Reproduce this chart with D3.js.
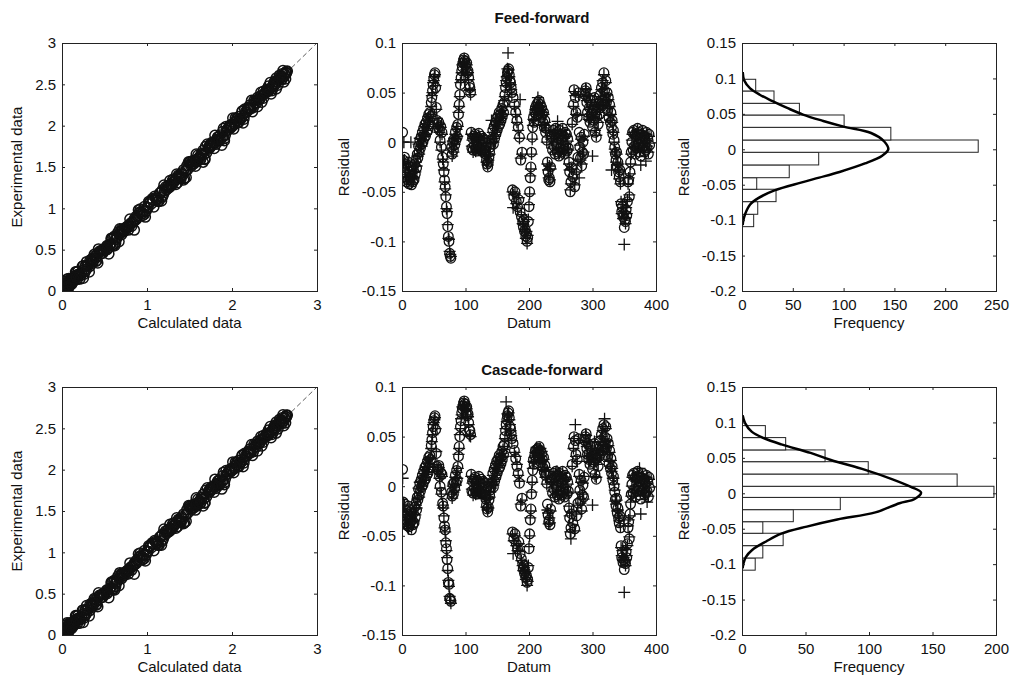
<!DOCTYPE html>
<html><head><meta charset="utf-8">
<script src="https://cdn.jsdelivr.net/npm/d3@7"></script>
<style>
body{margin:0;background:#fff;}
text{font-family:"Liberation Sans",Arial,sans-serif;fill:#111;}
</style></head><body>
<script>
// ---------------- DATA ----------------
// Residuals in thousandths, one per datum (datum = index + 1)
const ffCircleRes = [10,-18,-30,-15,-35,-22,-40,-26,-38,-20,-42,-30,-36,-25,-43,-33,-40,-28,-38,-22,-32,-18,-26,-12,-16,
 -4,-10,2,-6,5,-2,10,0,14,4,18,6,20,10,24,12,28,18,30,26,40,
 45,52,58,64,68,70,55,35,22,18,15,20,
 12,2,16,-5,10,-15,-22,-30,-38,-45,-55,-65,-72,-85,-95,-100,-112,-115,-117,
 -5,-12,0,-8,3,-3,10,2,15,5,18,
 28,38,48,58,65,72,76,80,83,85,82,78,75,80,70,72,65,58,55,50,
 10,-6,4,-8,6,-3,8,-7,3,-9,5,-4,9,-6,2,-8,6,-3,-9,4,-6,2,
 -8,-12,-18,-22,-25,-20,-15,-10,-5,-2,3,
 2,12,-2,16,4,20,8,24,12,26,16,30,18,28,22,34,26,38,30,
 40,48,55,60,65,70,72,74,68,62,
 60,55,50,-48,45,-55,38,-50,30,-60,22,-65,15,-58,5,-70,-18,-75,-10,-80,-85,-78,-90,-88,-95,-92,-100,-96,-80,-65,-50,-36,-25,-10,5,
 15,25,20,30,35,28,38,32,40,35,42,30,38,25,35,28,20,30,15,22,
 10,14,2,-20,-30,-38,-36,-40,-25,5,
 6,-8,12,-4,8,-12,14,-2,10,-10,4,-14,12,-6,8,-10,2,14,-8,6,-12,10,-4,8,-9,3,-6,
 -20,-30,-50,-40,-25,20,-35,38,53,-45,45,30,-28,25,-15,50,10,
 -5,-16,5,-24,-10,0,-12,8,
 48,52,55,40,30,45,25,35,20,42,28,38,15,32,22,45,10,30,5,26,35,18,40,28,48,35,55,42,60,38,70,52,45,62,40,50,32,45,25,38,20,30,15,22,8,12,2,
 -5,-12,-18,-10,-25,-20,-30,-35,-28,-40,-62,-70,-65,-75,-72,-86,
 -78,-80,-68,-74,-60,-40,-38,-55,-30,-20,-10,
 0,10,-8,12,-4,8,-12,6,-6,14,-2,10,-10,4,-14,8,-6,12,-4,6,-10,2,-8,10,-6,4,-12,8,-3];

const ffPlusRes = [0,-20,0,-18,-33,-25,-38,-28,-36,-22,-40,-32,-34,0,-41,-35,-38,-30,-36,-24,-30,-20,-24,-14,-14,
 -2,-12,4,-4,3,-4,8,2,12,6,16,8,18,12,22,14,26,20,28,28,36,
 47,50,60,62,66,68,57,33,24,16,16,18,
 10,0,15,-8,8,-17,-20,-28,-40,-47,-53,-67,-70,-83,-97,-98,-110,-113,-115,
 -6,-14,1,-10,4,-2,8,3,13,6,16,
 30,36,46,60,63,70,78,79,81,84,80,76,73,78,68,70,63,52,53,48,
 8,-4,2,-10,4,-5,6,-9,5,-7,3,-6,7,-8,4,-6,-10,-1,-7,2,-8,4,
 -10,-14,-20,-20,-23,-18,-13,-12,-4,-1,22,
 4,10,0,14,6,18,10,22,14,24,18,28,20,26,24,32,28,36,28,
 42,46,57,62,66,74,90,73,66,60,
 58,53,48,-50,-66,-53,36,-52,28,-62,20,-67,12,-56,4,43,-16,-73,-12,-82,-83,-80,-88,-90,-97,-90,-102,-94,-78,-63,-52,-34,-27,-12,3,
 17,23,22,28,33,30,36,34,45,37,40,32,36,27,33,30,18,28,17,20,
 12,12,0,-22,-28,-36,-24,-38,-27,3,
 4,-6,10,-2,6,-10,12,0,8,21,2,-12,-11,-4,6,-8,4,12,-6,4,-10,8,-2,6,-7,1,-8,
 -22,-28,-48,-42,-27,18,-37,36,51,-43,47,28,-30,27,-17,48,-36,
 -3,-18,3,-22,-12,2,-10,6,
 46,54,53,42,28,47,23,33,22,40,26,36,-14,30,24,43,12,28,7,24,33,20,38,30,46,37,53,40,62,36,68,54,43,60,42,48,34,43,27,36,22,28,-28,20,10,10,0,
 -7,-10,-20,-12,-23,-22,-28,-37,-30,-42,-60,-72,-63,-77,-70,-103,
 -76,-82,-66,-72,-58,-42,-36,-53,-32,-22,-12,
 2,8,-6,10,-2,6,-10,4,-4,12,0,8,-8,2,-23,6,-4,10,-2,4,-8,0,-19,8,-4,2,-10,6,-1];

const cfCircleRes = [17,-16,-28,-18,-36,-24,-38,-28,-40,-20,-41,-32,-37,-26,-44,-34,-39,-27,-37,-21,-31,-17,-24,-11,-14,
 -3,-9,3,-5,6,-1,11,1,15,5,19,7,21,11,25,13,29,19,31,27,41,
 47,54,60,66,69,71,57,33,20,17,16,21,
 10,0,14,-6,12,-17,-20,-32,-40,-44,-57,-63,-74,-83,-97,-99,-113,-114,-116,
 -6,-10,2,-8,4,-2,11,3,16,6,20,
 30,40,50,60,66,74,78,81,84,86,83,79,74,80,71,73,64,57,56,52,
 12,-5,5,-7,7,-2,9,-6,4,-8,6,-3,10,-5,3,-7,7,-2,-8,5,-5,3,
 -9,-13,-19,-23,-26,-21,-14,-9,-4,-1,4,
 3,13,-1,17,5,21,9,25,13,27,17,31,19,29,23,35,27,40,32,
 42,50,56,62,67,71,74,76,69,60,
 58,53,48,-46,43,-53,36,-48,28,-58,20,-63,13,-56,3,-68,-20,-73,-12,-78,-83,-80,-88,-86,-92,-90,-97,-94,-82,-63,-48,-34,-23,-8,6,
 16,27,22,31,36,27,37,31,38,34,40,28,36,24,33,27,19,29,14,21,
 11,13,3,-18,-29,-36,-34,-39,-23,6,
 7,-7,13,-3,9,-11,15,-1,11,-9,5,-13,13,-5,9,-9,3,15,-7,7,-11,11,-3,9,-8,4,-5,
 -22,-32,-48,-42,-28,22,-37,40,50,-43,46,32,-30,27,-17,48,12,
 -4,-15,6,-23,-9,1,-11,9,
 46,50,53,38,32,43,27,33,22,40,30,36,17,30,24,43,12,28,7,28,33,20,38,30,46,33,52,40,58,36,62,50,43,60,38,48,30,43,23,36,18,28,13,20,6,10,0,
 -6,-13,-20,-12,-27,-22,-32,-37,-30,-42,-60,-72,-67,-77,-74,-84,
 -76,-78,-66,-72,-58,-42,-36,-53,-28,-18,-8,
 2,11,-7,13,-3,9,-11,7,-5,15,-1,11,-9,5,-13,9,-5,13,-3,7,-9,3,-7,11,-5,5,-11,9,-2];

const cfPlusRes = [8,-18,-26,-20,-34,-26,-36,-30,-38,-43,-39,-34,-35,-28,-42,-36,-37,-29,-35,-23,-29,-19,-22,-13,-12,
 -2,-11,4,-3,5,0,9,3,13,6,17,9,19,12,23,14,27,20,29,28,38,
 45,52,62,64,67,69,58,35,22,15,17,19,
 8,-2,12,-8,10,-19,-22,-30,-42,-46,-55,-65,-72,-85,-95,-101,-111,-115,-118,
 -8,-12,0,-6,2,-4,9,1,14,8,18,
 32,38,52,58,68,72,80,79,82,85,81,77,76,78,72,70,62,51,51,50,
 10,-3,3,-9,5,-4,7,-8,4,-7,4,-5,8,-7,2,-6,-5,-10,-6,3,-7,4,
 -11,-12,-21,-21,-24,-22,-12,-11,-6,-2,2,
 5,11,1,15,7,19,11,23,15,25,19,29,21,27,25,33,29,37,30,
 40,48,58,85,65,73,72,74,67,62,
 56,51,46,-48,-68,-55,34,-50,30,-60,22,-65,11,-58,5,-66,-18,-75,-14,-80,-85,-82,-86,-88,-94,-92,-100,-96,-80,-61,-50,-32,-25,-6,4,
 18,25,24,29,34,29,39,33,36,32,38,30,38,26,35,25,17,27,16,19,
 9,15,2,-24,-27,-38,-32,-37,-25,4,
 5,-5,11,-1,7,-9,13,1,15,-8,3,-11,11,-3,7,-8,5,13,-5,5,-9,9,-1,7,-6,2,-7,
 -20,-30,-46,-53,-26,20,-39,38,48,-45,62,30,-28,25,-19,46,10,
 -6,-17,4,-25,-8,3,-13,10,
 44,52,51,40,30,45,25,31,24,38,28,38,-19,32,22,45,10,26,9,26,31,22,36,32,44,35,50,42,56,38,60,68,45,58,40,46,32,41,25,34,20,26,15,18,8,8,2,
 -4,-15,-18,-14,-25,-24,-30,-35,-32,-40,-62,-70,-65,-75,-72,-107,
 -74,-80,-64,-70,-60,-40,-34,-51,-30,-16,-10,
 0,9,-6,11,-2,7,-10,5,-4,13,0,9,18,3,-28,7,-4,11,-2,5,-8,1,-6,9,-16,3,-10,7,-1];

// Calculated data (hundredths), one per datum
const calcValues = [3,8,2,15,27,5,41,12,60,1, 78,33,95,4,118,22,140,9,163,48, 185,70,207,6,229,88,251,14,262,105,
 36,131,57,152,2,174,81,196,19,218, 240,110,258,45,125,7,147,66,169,29, 190,92,212,11,234,53,255,137,75,160,
 4,182,39,203,99,225,18,247,114,263, 62,143,25,166,85,188,1,209,50,231, 128,253,72,156,10,178,31,199,107,221,
 243,58,135,16,158,90,180,6,201,43, 223,120,245,68,260,24,150,97,172,3, 194,37,216,83,238,13,132,56,154,101,
 176,8,198,46,220,123,242,77,264,20, 145,64,167,2,189,112,211,34,233,86, 256,138,52,161,5,183,93,205,28,227,
 116,249,71,141,11,164,42,186,103,208, 230,59,252,17,127,80,149,4,171,38, 193,109,215,63,237,26,259,134,87,157,
 1,179,49,202,121,224,14,246,74,261, 98,144,32,168,7,191,55,213,117,235, 254,82,139,21,162,67,184,3,206,44,
 228,104,250,61,130,9,153,91,175,35, 197,124,219,76,241,18,263,146,54,170, 6,192,40,214,111,236,23,257,84,133,
 155,47,177,12,200,96,222,65,244,2, 126,262,73,148,30,173,100,195,15,217, 239,57,258,119,136,5,159,89,181,39,
 204,113,226,69,248,27,142,10,165,94, 187,51,210,129,232,79,255,19,151,106, 4,174,62,197,115,219,33,241,92,264,
 137,13,160,81,183,1,206,45,229,122, 251,70,143,25,166,102,189,8,212,58, 234,118,256,36,131,16,154,85,177,48,
 199,127,221,75,243,3,261,139,29,163, 11,185,53,208,108,230,21,252,67,146, 168,42,191,7,214,97,237,60,259,2,
 120,247,78,152,34,175,111,198,14,220, 242,63,265,130,157,6,180,87,203,41, 225,112,249,72,135,17,158,95,182,26];

// Histogram bins (edges bottom->top) and frequencies
const ffHistEdges = [-0.1092,-0.0917,-0.0739,-0.0564,-0.0401,-0.0221,-0.0042,0.0131,0.0310,0.0484,0.0649,0.0823,0.0988];
const ffHistFreq  = [11,15,33,14,46,75,232,146,100,56,31,13];
const cfHistEdges = [-0.1085,-0.0913,-0.0739,-0.0564,-0.0401,-0.0231,-0.0058,0.0099,0.0272,0.0446,0.0612,0.0786,0.0955];
const cfHistFreq  = [10,16,32,16,40,77,198,169,99,65,34,18];

// Fitted normal curves
const ffCurveRes  = [0.109,0.097,0.086,0.077,0.068,0.058,0.049,0.040,0.032,0.023,0.011,0.000,-0.009,-0.020,-0.032,-0.040,-0.047,-0.058,-0.069,-0.078,-0.090,-0.101,-0.107];
const ffCurveFreq = [0.7,2.2,8,17.5,30,45,60,80,100,127,140,144,138,121,96,76,58,32,16,8,3.5,1.2,0.7];
const cfCurveRes  = [0.110,0.099,0.087,0.078,0.069,0.057,0.047,0.033,0.020,0.009,0.001,-0.008,-0.014,-0.027,-0.037,-0.047,-0.057,-0.068,-0.080,-0.090,-0.100,-0.106];
const cfCurveFreq = [0.5,2.4,7.6,17,31,54,70,97,118,133,141,136,124,105,75,51,31,19,8,3,1,0.5];

// Axis ticks
const fitTicks = [0,1,2,3];
const fitYTicks = [0,0.5,1,1.5,2,2.5,3];
const datumTicks = [0,100,200,300,400];
const resTicks = [-0.15,-0.1,-0.05,0,0.05,0.1];
const histResTicks = [-0.2,-0.15,-0.1,-0.05,0,0.05,0.1,0.15];
const ffFreqTicks = [0,50,100,150,200,250];
const cfFreqTicks = [0,50,100,150,200];
const titles = ["Feed-forward","Cascade-forward"];

// ---------------- DRAWING ----------------
const W = 1012, H = 681;
const svg = d3.select('body').append('svg').attr('width', W).attr('height', H).style('display','block');
svg.append('rect').attr('width', W).attr('height', H).attr('fill', '#fff');

const cols = [[62,317],[402,656],[742,996]];
const rows = [[43,291],[387,635]];
const FS = 15;
const MR = 4.8, MW = 1.3, PA = 6;
let clipId = 0;

function axesBox(col, row, xDom, yDom, xT, yT, xLabel, yLabel, yLabelX) {
  const x = d3.scaleLinear().domain(xDom).range(col);
  const y = d3.scaleLinear().domain(yDom).range([row[1], row[0]]);
  const g = svg.append('g');
  const id = 'clip' + (clipId++);
  g.append('clipPath').attr('id', id).append('rect')
    .attr('x', col[0]).attr('y', row[0]).attr('width', col[1]-col[0]).attr('height', row[1]-row[0]);
  const plot = g.append('g').attr('clip-path', `url(#${id})`);
  const fmt = d => String(d);
  const ax = [];
  ax.push(g.append('g').attr('transform', `translate(0,${row[1]})`)
    .call(d3.axisBottom(x).tickValues(xT).tickFormat(fmt).tickSizeInner(-3).tickSizeOuter(0).tickPadding(8)));
  ax.push(g.append('g').attr('transform', `translate(0,${row[0]})`)
    .call(d3.axisTop(x).tickValues(xT).tickFormat('').tickSizeInner(-3).tickSizeOuter(0)));
  ax.push(g.append('g').attr('transform', `translate(${col[0]},0)`)
    .call(d3.axisLeft(y).tickValues(yT).tickFormat(fmt).tickSizeInner(-3).tickSizeOuter(0).tickPadding(6)));
  ax.push(g.append('g').attr('transform', `translate(${col[1]},0)`)
    .call(d3.axisRight(y).tickValues(yT).tickFormat('').tickSizeInner(-3).tickSizeOuter(0)));
  ax.forEach(a => {
    a.select('.domain').remove();
    a.selectAll('line').attr('stroke', '#222');
    a.selectAll('text').attr('font-size', FS).attr('font-family', '"Liberation Sans",Arial,sans-serif').attr('fill', '#111');
  });
  const frame = g.append('rect').attr('x', col[0]+0.5).attr('y', row[0]+0.5)
    .attr('width', col[1]-col[0]).attr('height', row[1]-row[0])
    .attr('fill', 'none').attr('stroke', '#222').attr('stroke-width', 1);
  g.append('text').attr('x', (col[0]+col[1])/2).attr('y', row[1]+37)
    .attr('text-anchor', 'middle').attr('font-size', FS).text(xLabel);
  g.append('text').attr('transform', `translate(${yLabelX},${(row[0]+row[1])/2}) rotate(-90)`)
    .attr('text-anchor', 'middle').attr('dy', '0.35em').attr('font-size', FS).text(yLabel);
  return {x, y, plot, g, frame};
}

const resSets = [[ffCircleRes, ffPlusRes], [cfCircleRes, cfPlusRes]];
const histSets = [[ffHistEdges, ffHistFreq, ffCurveRes, ffCurveFreq, ffFreqTicks, 250],
                  [cfHistEdges, cfHistFreq, cfCurveRes, cfCurveFreq, cfFreqTicks, 200]];

rows.forEach((row, r) => {
  const [circ, plus] = resSets[r];

  // --- Fit plot ---
  const A = axesBox(cols[0], row, [0,3], [0,3], fitTicks, fitYTicks, 'Calculated data', 'Experimental data', 17);
  const fitPts = calcValues.map((c, i) => ({c: c/100, e: c/100 + circ[i]/1000}));
  A.plot.append('line')
    .attr('x1', A.x(0)).attr('y1', A.y(0)).attr('x2', A.x(3)).attr('y2', A.y(3))
    .attr('stroke', '#333').attr('stroke-width', 0.8).attr('stroke-dasharray', '5,3');
  A.plot.selectAll('circle.fit').data(fitPts).join('circle')
    .attr('cx', d => A.x(d.c)).attr('cy', d => A.y(d.e)).attr('r', MR + 0.3)
    .attr('fill', 'none').attr('stroke', '#111').attr('stroke-width', MW + 0.2);

  // --- Residual plot ---
  const B = axesBox(cols[1], row, [0,400], [-0.15,0.1], datumTicks, resTicks, 'Datum', 'Residual', 344);
  B.plot.selectAll('circle.res').data(circ).join('circle')
    .attr('cx', (d, i) => B.x(i+1)).attr('cy', d => B.y(d/1000)).attr('r', MR)
    .attr('fill', 'none').attr('stroke', '#111').attr('stroke-width', MW);
  B.plot.selectAll('path.plus').data(plus).join('path')
    .attr('d', (d, i) => { const px = B.x(i+1), py = B.y(d/1000); return `M${px-PA},${py}H${px+PA}M${px},${py-PA}V${py+PA}`; })
    .attr('fill', 'none').attr('stroke', '#111').attr('stroke-width', MW);
  svg.append('text').attr('x', 542).attr('y', r === 0 ? 23 : 375)
    .attr('text-anchor', 'middle').attr('font-size', FS).attr('font-weight', 'bold').text(titles[r]);

  // --- Histogram ---
  const [edges, freq, cRes, cFreq, fTicks, fMax] = histSets[r];
  const C = axesBox(cols[2], row, [0,fMax], [-0.2,0.15], fTicks, histResTicks, 'Frequency', 'Residual', 684);
  C.plot.selectAll('rect.bar').data(freq).join('rect')
    .attr('x', C.x(0)+0.5).attr('y', (d, i) => C.y(edges[i+1]))
    .attr('width', d => C.x(d) - C.x(0)).attr('height', (d, i) => C.y(edges[i]) - C.y(edges[i+1]))
    .attr('fill', '#fff').attr('stroke', '#222').attr('stroke-width', 1);
  const line = d3.line().x(d => C.x(d[0])).y(d => C.y(d[1])).curve(d3.curveCatmullRom);
  C.plot.append('path').datum(cFreq.map((f, i) => [f, cRes[i]]))
    .attr('d', line).attr('fill', 'none').attr('stroke', '#000').attr('stroke-width', 2.5);
  C.frame.raise();
});
</script>
</body></html>
